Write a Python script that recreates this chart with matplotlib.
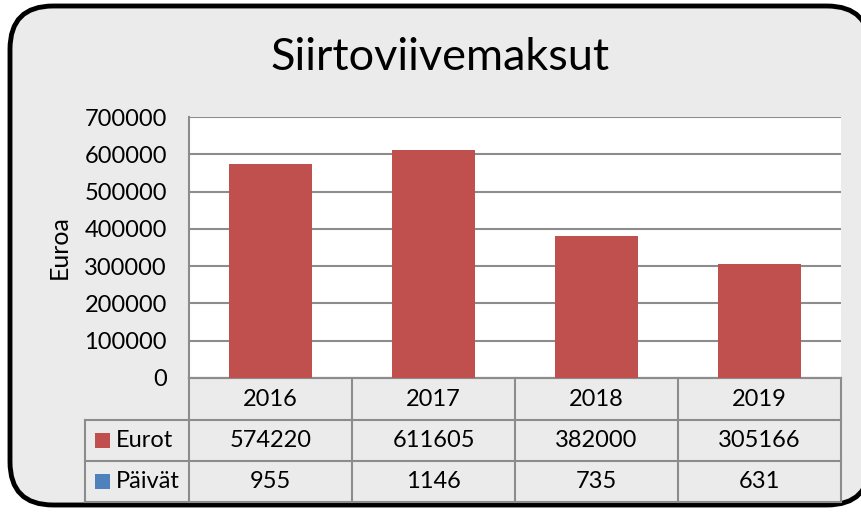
import matplotlib
matplotlib.use("Agg")
import matplotlib.pyplot as plt
from matplotlib.patches import FancyBboxPatch, Rectangle
from matplotlib.lines import Line2D

years = ["2016", "2017", "2018", "2019"]
eurot = [574220, 611605, 382000, 305166]
paivat = [955, 1146, 735, 631]
series_names = ["Eurot", "Päivät"]
title = "Siirtoviivemaksut"
ylabel = "Euroa"
yticks = [0, 100000, 200000, 300000, 400000, 500000, 600000, 700000]

plt.rcParams['font.family'] = ['Lato', 'DejaVu Sans']
FS = 17

W, H = 862, 513
fig = plt.figure(figsize=(W / 100, H / 100), dpi=100, facecolor="white")

bg = FancyBboxPatch((10 / W, 8 / H), (870 - 10) / W, (507 - 8) / H,
                    boxstyle="round,pad=0,rounding_size=0.05",
                    transform=fig.transFigure, facecolor="#EBEBEB",
                    edgecolor="black", linewidth=3.5, mutation_aspect=W / H,
                    zorder=-10)
fig.patches.append(bg)

grid_c = "#8C8C8C"
red = "#C0504D"
blue = "#4F81BD"

x0, x1, ytop, ybot = 189, 841, 117, 378
ax = fig.add_axes([x0 / W, (H - ybot) / H, (x1 - x0) / W, (ybot - ytop) / H])
ax.set_zorder(1)
ax.set_facecolor("white")
xs = list(range(len(years)))
ax.bar(xs, eurot, width=0.515, color=red, zorder=3)
ax.set_xlim(-0.5, len(years) - 0.5)
ax.set_ylim(0, 700000)
ax.set_yticks(yticks)
ax.set_yticklabels([str(v) for v in yticks], fontsize=FS)
ax.tick_params(axis="y", length=0, pad=16)
ax.set_xticks([])
ax.yaxis.grid(True, color=grid_c, linewidth=1.5, zorder=1)
for s in ["top", "right"]:
    ax.spines[s].set_visible(False)
ax.spines["left"].set_color(grid_c)
ax.spines["left"].set_linewidth(1.5)
ax.spines["bottom"].set_color(grid_c)
ax.spines["bottom"].set_linewidth(1.5)
ax.set_ylabel(ylabel, fontsize=FS + 1, labelpad=10)

fig.text(440 / W, 1 - 57 / H, title, fontsize=32.5, ha="center", va="center")

# data table
ah = ybot - ytop
unit = (x1 - x0) / len(years)
def fy(py):
    return -(py - ybot) / ah
def dx(px):
    return -0.5 + (px - x0) / unit

rows = [ybot, 420, 461, 502]
trans = ax.get_xaxis_transform()
lx = dx(85)
kw = dict(transform=trans, clip_on=False, color=grid_c, linewidth=1.5)
ax.add_line(Line2D([-0.5, len(years) - 0.5], [fy(rows[0])] * 2, **kw))
for r in rows[1:]:
    ax.add_line(Line2D([lx, len(years) - 0.5], [fy(r)] * 2, **kw))
for i in range(len(years) + 1):
    ax.add_line(Line2D([i - 0.5] * 2, [fy(rows[0]), fy(rows[-1])], **kw))
ax.add_line(Line2D([lx] * 2, [fy(rows[1]), fy(rows[-1])], **kw))

for i, y in enumerate(years):
    ax.text(i, fy((rows[0] + rows[1]) / 2), y, transform=trans, ha="center",
            va="center", fontsize=FS, clip_on=False)
for i, v in enumerate(eurot):
    ax.text(i, fy((rows[1] + rows[2]) / 2), str(v), transform=trans, ha="center",
            va="center", fontsize=FS, clip_on=False)
for i, v in enumerate(paivat):
    ax.text(i, fy((rows[2] + rows[3]) / 2), str(v), transform=trans, ha="center",
            va="center", fontsize=FS, clip_on=False)

for k, (name, col) in enumerate(zip(series_names, [red, blue])):
    cy = (rows[1 + k] + rows[2 + k]) / 2
    fig.patches.append(Rectangle((95 / W, 1 - (cy + 7.5) / H), 15 / W, 15 / H,
                                 transform=fig.transFigure, facecolor=col,
                                 edgecolor="none", zorder=2))
    fig.text(116 / W, 1 - cy / H, name, fontsize=FS, ha="left", va="center")

fig.savefig("out.png", dpi=100, facecolor="white")
